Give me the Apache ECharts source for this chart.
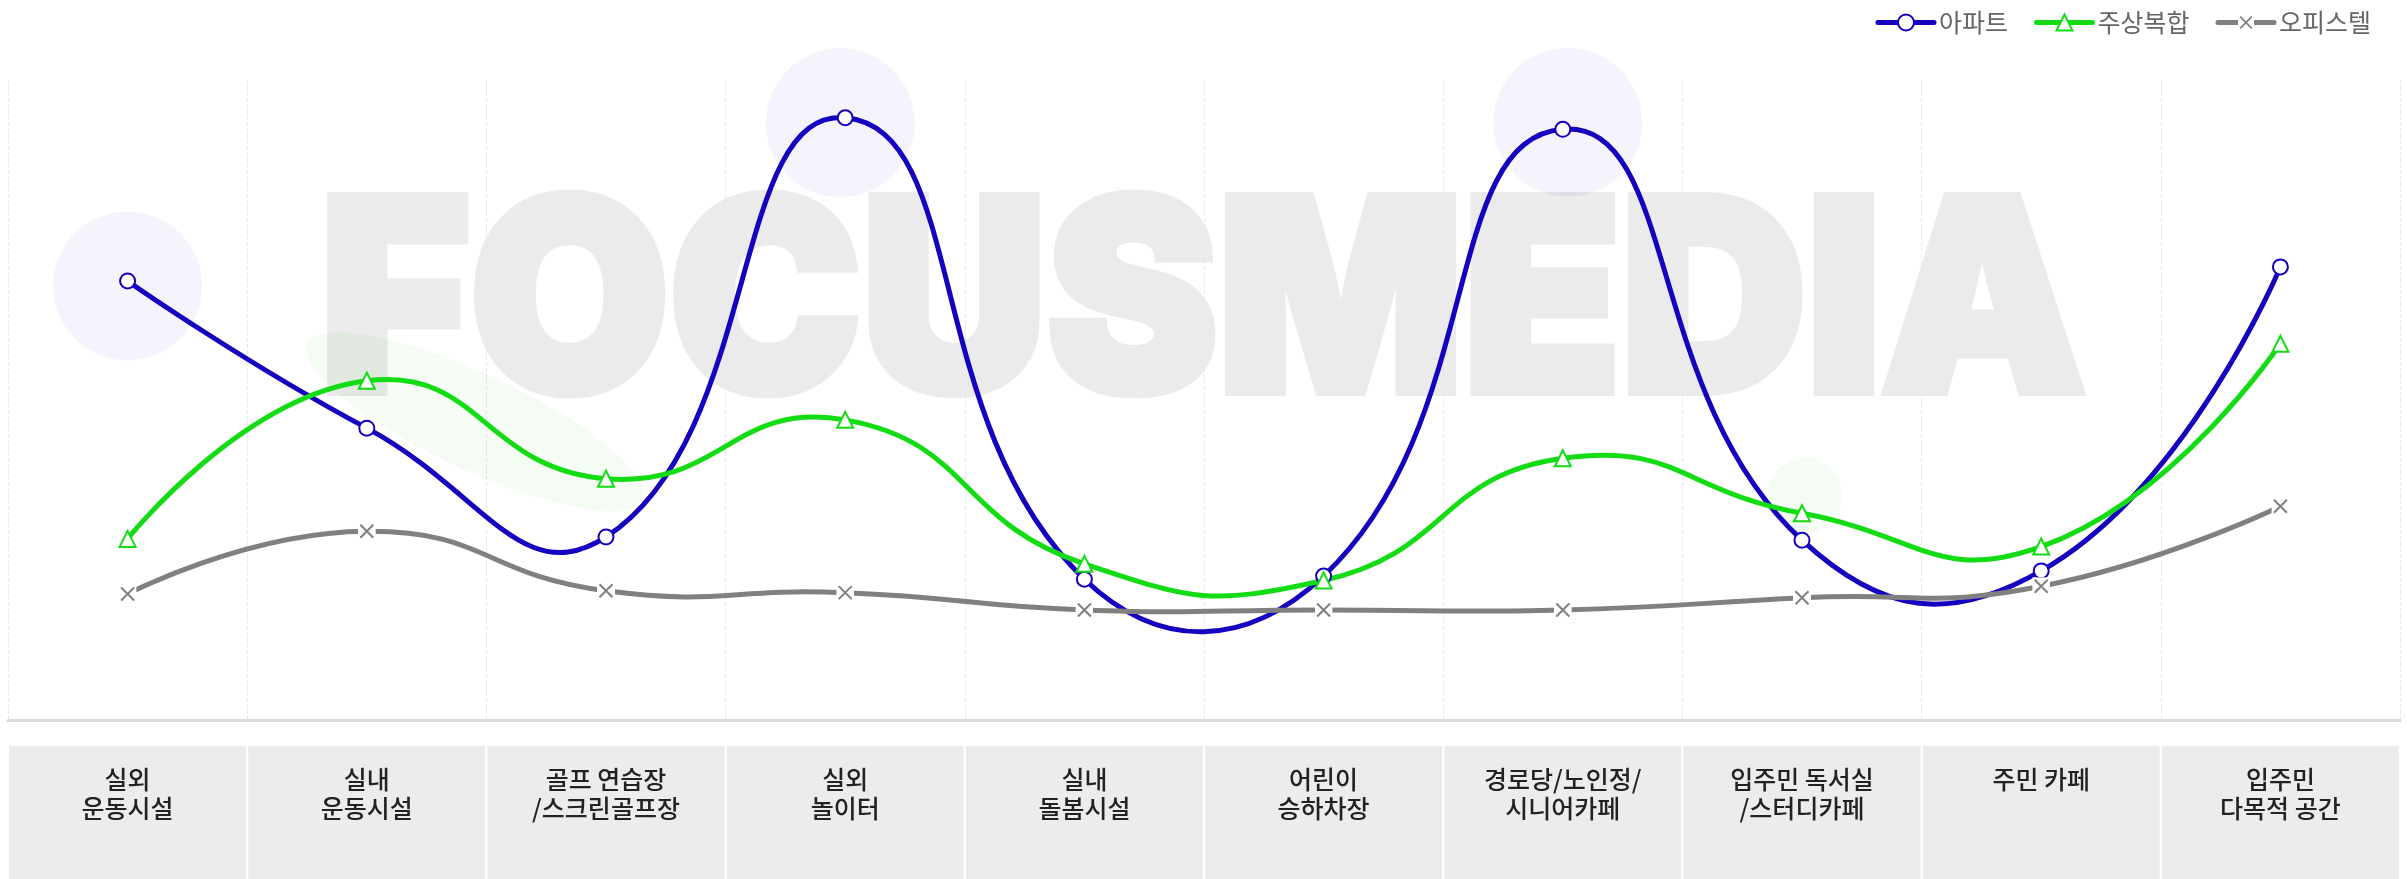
<!DOCTYPE html>
<html>
<head>
<meta charset="utf-8">
<script src="https://cdn.jsdelivr.net/npm/echarts@6/dist/echarts.min.js"></script>
<style>
  html, body { margin: 0; padding: 0; background: #fff; }
  #chart { width: 2407px; height: 879px; }
</style>
</head>
<body>
<div id="chart"></div>
<script>
// 항목 (x축)
const categories = [
  '실외\n운동시설', '실내\n운동시설', '골프 연습장\n/스크린골프장', '실외\n놀이터', '실내\n돌봄시설',
  '어린이\n승하차장', '경로당/노인정/\n시니어카페', '입주민 독서실\n/스터디카페', '주민 카페', '입주민\n다목적 공간'
]
const seriesNames = ['아파트', '주상복합', '오피스텔']
// 값
const aptValues = [68.6, 45.6, 28.6, 94.1, 22.0, 22.5, 92.3, 28.1, 23.3, 70.8]
const mixedValues = [28.3, 53.0, 37.7, 46.9, 24.4, 21.8, 40.9, 32.3, 27.1, 58.8]
const officeValues = [19.7, 29.5, 20.2, 19.9, 17.2, 17.2, 17.2, 19.1, 20.9, 33.4]
const watermarkText = 'FOCUSMEDIA'

const FONT = '"Noto Sans CJK KR", "Noto Sans", sans-serif'
const colors = ['#1400be', '#14dc14', '#808080']
const TENSION = 0.5

// 오피스텔 마커 (X, 흰 바탕)
const xSvg = '<svg xmlns="http://www.w3.org/2000/svg" width="18" height="18">' +
  '<rect width="18" height="18" fill="#ffffff"/>' +
  '<path d="M2.5 2.5L15.5 15.5M15.5 2.5L2.5 15.5" stroke="#808080" stroke-width="2"/></svg>'
const xSymbol = 'image://data:image/svg+xml;charset=utf-8,' + encodeURIComponent(xSvg)

// 워터마크 크기 계산
function watermarkLayout() {
  const ctx = document.createElement('canvas').getContext('2d')
  ctx.textBaseline = 'middle'
  ctx.font = '900 100px Inter'
  let m = ctx.measureText(watermarkText)
  const fontSize = 100 * 200 / (m.actualBoundingBoxAscent + m.actualBoundingBoxDescent)
  ctx.font = '900 ' + fontSize + 'px Inter'
  m = ctx.measureText(watermarkText)
  const w = m.actualBoundingBoxLeft + m.actualBoundingBoxRight
  const scale = 1750 / w
  return {
    fontSize: fontSize,
    scale: scale,
    x: 332 + m.actualBoundingBoxLeft * scale,
    y: 191 + m.actualBoundingBoxAscent
  }
}

// 곡선: 이웃 점 기준 제어점 (넘침 허용)
function curveSeries(values, color) {
  const n = values.length
  return {
    type: 'custom',
    silent: true,
    z: 2,
    data: values.map((v, i) => [i, v]),
    renderItem: function (params, api) {
      const i = params.dataIndex
      if (i >= n - 1) return null
      const p = values.map((v, k) => api.coord([k, v]))
      const out = (k) => {
        if (k === 0) return p[0]
        const d0 = Math.hypot(p[k][0] - p[k - 1][0], p[k][1] - p[k - 1][1])
        const d1 = Math.hypot(p[k + 1][0] - p[k][0], p[k + 1][1] - p[k][1])
        const f = TENSION * d1 / (d0 + d1)
        return [p[k][0] + (p[k + 1][0] - p[k - 1][0]) * f, p[k][1] + (p[k + 1][1] - p[k - 1][1]) * f]
      }
      const inn = (k) => {
        if (k === n - 1) return p[n - 1]
        const d0 = Math.hypot(p[k][0] - p[k - 1][0], p[k][1] - p[k - 1][1])
        const d1 = Math.hypot(p[k + 1][0] - p[k][0], p[k + 1][1] - p[k][1])
        const f = TENSION * d0 / (d0 + d1)
        return [p[k][0] - (p[k + 1][0] - p[k - 1][0]) * f, p[k][1] - (p[k + 1][1] - p[k - 1][1]) * f]
      }
      const c1 = out(i)
      const c2 = inn(i + 1)
      return {
        type: 'bezierCurve',
        shape: {
          x1: p[i][0], y1: p[i][1],
          cpx1: c1[0], cpy1: c1[1],
          cpx2: c2[0], cpy2: c2[1],
          x2: p[i + 1][0], y2: p[i + 1][1]
        },
        style: { stroke: color, lineWidth: 5, fill: null, lineCap: 'round' }
      }
    }
  }
}

const chartInstance = echarts.init(document.getElementById('chart'))
const wm = watermarkLayout()

const option = {
  animation: false,
  backgroundColor: '#ffffff',
  graphic: [{
    type: 'text',
    z: -10,
    x: wm.x,
    y: wm.y,
    scaleX: wm.scale,
    silent: true,
    style: {
      text: watermarkText,
      x: 0,
      y: 0,
      align: 'left',
      verticalAlign: 'middle',
      fill: '#ebebeb',
      stroke: '#ebebeb',
      lineWidth: 10,
      lineJoin: 'round',
      font: '900 ' + wm.fontSize + 'px Inter',
      shadowBlur: 6,
      shadowColor: '#ebebeb'
    }
  }],
  legend: {
    data: seriesNames,
    right: 31,
    top: 5,
    itemWidth: 56,
    itemHeight: 20,
    itemGap: 26,
    lineStyle: { width: 5, opacity: 1, cap: 'round' },
    textStyle: {
      fontFamily: FONT,
      fontSize: 25,
      color: '#666'
    }
  },
  grid: {
    left: 8,
    right: 7,
    top: 80,
    bottom: 159
  },
  xAxis: {
    type: 'category',
    data: categories,
    boundaryGap: true,
    offset: 24,
    axisLine: { lineStyle: { color: '#d9d9d9', width: 3 } },
    axisTick: { show: false },
    splitLine: {
      show: true,
      lineStyle: { color: '#e8e8e8', type: 'dashed', width: 1 }
    },
    axisLabel: {
      interval: 0,
      margin: 2,
      color: '#222',
      fontFamily: FONT,
      fontSize: 25,
      fontWeight: 500,
      lineHeight: 29,
      backgroundColor: '#ececec',
      width: 237,
      height: 114,
      padding: [19, 0, 0, 0],
      align: 'center',
      verticalAlign: 'top'
    }
  },
  yAxis: {
    type: 'value',
    min: 0,
    max: 100,
    show: false,
    splitLine: { show: false }
  },
  series: [
    // 배경 장식
    {
      type: 'scatter',
      silent: true,
      z: 1,
      symbol: 'circle',
      symbolSize: 149,
      itemStyle: { color: 'rgba(20, 0, 190, 0.055)' },
      data: [
        { value: [0, aptValues[0]], symbolOffset: [0, 5] },
        { value: [3, aptValues[3]], symbolOffset: [-5, 5] },
        { value: [6, aptValues[6]], symbolOffset: [5, -7] }
      ]
    },
    {
      type: 'scatter',
      silent: true,
      z: 1,
      symbol: 'circle',
      itemStyle: { color: 'rgba(20, 200, 20, 0.06)' },
      data: [
        { value: [1, mixedValues[1]], symbolSize: [370, 96], symbolRotate: -25, symbolOffset: [108, 41] },
        { value: [7, mixedValues[7]], symbolSize: 75, symbolOffset: [3, -18] }
      ]
    },
    curveSeries(aptValues, colors[0]),
    curveSeries(mixedValues, colors[1]),
    curveSeries(officeValues, colors[2]),
    // 마커 + 범례
    {
      name: seriesNames[0],
      type: 'line',
      z: 3,
      data: aptValues,
      symbol: 'circle',
      symbolSize: 15,
      color: colors[0],
      lineStyle: { width: 5, color: colors[0], opacity: 0 },
      itemStyle: { color: '#ffffff', borderColor: colors[0], borderWidth: 2 }
    },
    {
      name: seriesNames[1],
      type: 'line',
      z: 3,
      data: mixedValues,
      symbol: 'triangle',
      symbolSize: 16,
      color: colors[1],
      lineStyle: { width: 5, color: colors[1], opacity: 0 },
      itemStyle: { color: '#ffffff', borderColor: colors[1], borderWidth: 2 }
    },
    {
      name: seriesNames[2],
      type: 'line',
      z: 3,
      data: officeValues,
      symbol: xSymbol,
      symbolSize: 18,
      color: colors[2],
      lineStyle: { width: 5, color: colors[2], opacity: 0 },
      itemStyle: { color: colors[2] }
    }
  ]
}

chartInstance.setOption(option)
</script>
</body>
</html>
